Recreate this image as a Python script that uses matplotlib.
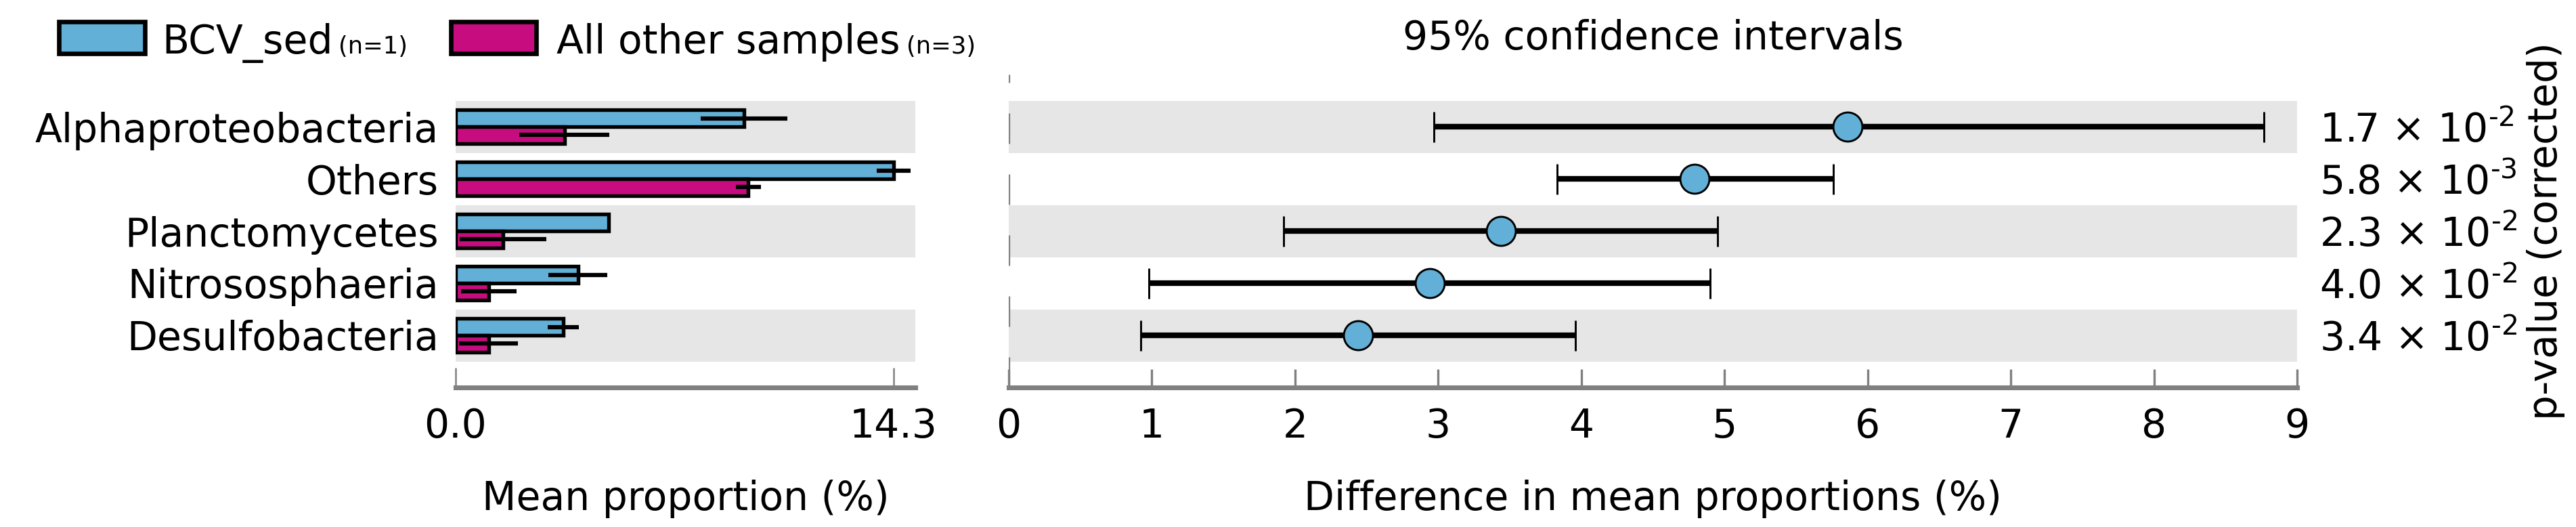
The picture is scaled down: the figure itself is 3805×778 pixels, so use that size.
import numpy as np
import matplotlib
matplotlib.use('Agg')
import matplotlib.pyplot as plt
from matplotlib.patches import Rectangle

plt.rcParams['font.family'] = ['DejaVu Sans']
plt.rcParams['mathtext.default'] = 'regular'

############ data ############
categories = ['Alphaproteobacteria', 'Others', 'Planctomycetes',
              'Nitrososphaeria', 'Desulfobacteria']

bcv_mean = [9.42, 14.3, 5.00, 4.00, 3.52]
bcv_err = [1.42, 0.55, 0.0, 0.96, 0.51]
other_mean = [3.55, 9.56, 1.55, 1.08, 1.08]
other_err = [1.47, 0.41, 1.42, 0.91, 0.96]

diff_mean = [5.86, 4.79, 3.44, 2.94, 2.44]
ci_low = [2.97, 3.83, 1.92, 0.98, 0.92]
ci_high = [8.77, 5.76, 4.95, 4.90, 3.96]

# short hyphen in the exponent, like the reference
pvalues = ['1.7 \u00d7 10$^{\u20102}$', '5.8 \u00d7 10$^{\u20103}$',
           '2.3 \u00d7 10$^{\u20102}$', '4.0 \u00d7 10$^{\u20102}$',
           '3.4 \u00d7 10$^{\u20102}$']

group1 = 'BCV_sed'
group2 = 'All other samples'
n1 = '(n=1)'
n2 = '(n=3)'

############ style ############
blue = '#62B0D7'
magenta = '#C60C7E'
band = '#E6E6E6'
spine_grey = '#808080'
fs = 14

W, H = 3805, 778
fig = plt.figure(figsize=(W / 300, H / 300), dpi=300)

ax_bottom = (H - 572) / H
ax_height = 462 / H
axl = fig.add_axes([673 / W, ax_bottom, (1352 - 673) / W, ax_height])
axr = fig.add_axes([1490 / W, ax_bottom, (3393 - 1490) / W, ax_height])

ind = np.arange(len(categories))
h = 0.32

############ left: mean proportions ############
for i in ind:
    if i % 2 == 0:
        axl.axhspan(i - 0.5, i + 0.5, color=band, lw=0, zorder=0)
        axr.axhspan(i - 0.5, i + 0.5, color=band, lw=0, zorder=0)

axl.barh(ind - h / 2, bcv_mean, height=h, color=blue, edgecolor='black',
         linewidth=1.3, xerr=bcv_err, zorder=2,
         error_kw=dict(ecolor='black', elinewidth=1.5, capsize=0, zorder=3))
axl.barh(ind + h / 2, other_mean, height=h, color=magenta, edgecolor='black',
         linewidth=1.3, xerr=other_err, zorder=2,
         error_kw=dict(ecolor='black', elinewidth=1.5, capsize=0, zorder=3))

max_val = max(bcv_mean + other_mean)
axl.set_xlim(0, max_val * 1.05)
axl.set_ylim(len(categories), -1)
axl.set_xticks([0, max_val])
axl.set_xticklabels(['%.1f' % 0, '%.1f' % max_val])
axl.set_yticks(ind)
axl.set_yticklabels(categories, fontsize=fs)
axl.tick_params(axis='y', length=0, pad=6)
axl.tick_params(axis='x', direction='in', length=7, width=0.6, color=spine_grey,
                labelsize=fs, pad=7)
axl.set_xlabel('Mean proportion (%)', fontsize=fs, labelpad=12)
for s in ['left', 'right', 'top']:
    axl.spines[s].set_visible(False)
axl.spines['bottom'].set_color(spine_grey)
axl.spines['bottom'].set_linewidth(1.7)

############ right: difference with CI ############
axr.axvline(0, color=spine_grey, lw=0.8, linestyle=(0, (13.5, 13.5)), zorder=1)
lower = np.array(diff_mean) - np.array(ci_low)
upper = np.array(ci_high) - np.array(diff_mean)
axr.errorbar(diff_mean, ind, xerr=[lower, upper], fmt='o', ms=10.3,
             mfc=blue, mec='black', mew=0.7, ecolor='black', elinewidth=2,
             capsize=5.4, capthick=1, zorder=3)

axr.set_xlim(0, 9)
axr.set_ylim(len(categories), -1)
axr.set_xticks(range(0, 10))
axr.tick_params(axis='x', direction='in', length=6.5, width=0.8, color=spine_grey,
                labelsize=fs, pad=7)
axr.yaxis.tick_right()
axr.set_yticks(ind)
axr.set_yticklabels(pvalues, fontsize=fs)
axr.tick_params(axis='y', length=0, pad=8)
axr.yaxis.set_label_position('right')
axr.set_ylabel('p-value (corrected)', fontsize=fs)
axr.yaxis.set_label_coords((3732 - 1490) / 1903, 0.5)
axr.set_xlabel('Difference in mean proportions (%)', fontsize=fs, labelpad=12)
axr.set_title('95% confidence intervals', fontsize=fs, pad=9)
for s in ['left', 'right', 'top']:
    axr.spines[s].set_visible(False)
axr.spines['bottom'].set_color(spine_grey)
axr.spines['bottom'].set_linewidth(1.7)

############ legend ############
py = (H - 79) / H
ph = 47 / H
fig.add_artist(Rectangle((87 / W, py), 127 / W, ph, transform=fig.transFigure,
                         facecolor=blue, edgecolor='black', lw=1.6))
fig.add_artist(Rectangle((666 / W, py), 126 / W, ph, transform=fig.transFigure,
                         facecolor=magenta, edgecolor='black', lw=1.6))
base_y = (H - 79) / H
t1 = fig.text(239 / W, base_y, group1, fontsize=fs, va='baseline', ha='left')
t2 = fig.text(822 / W, base_y, group2, fontsize=fs, va='baseline', ha='left')

fig.canvas.draw()
r = fig.canvas.get_renderer()
for t, n in [(t1, n1), (t2, n2)]:
    bb = t.get_window_extent(r).transformed(fig.transFigure.inverted())
    fig.text(bb.x1 + 9 / W, base_y, n, fontsize=8.5, va='baseline', ha='left')

fig.savefig('out.png', dpi=300)
